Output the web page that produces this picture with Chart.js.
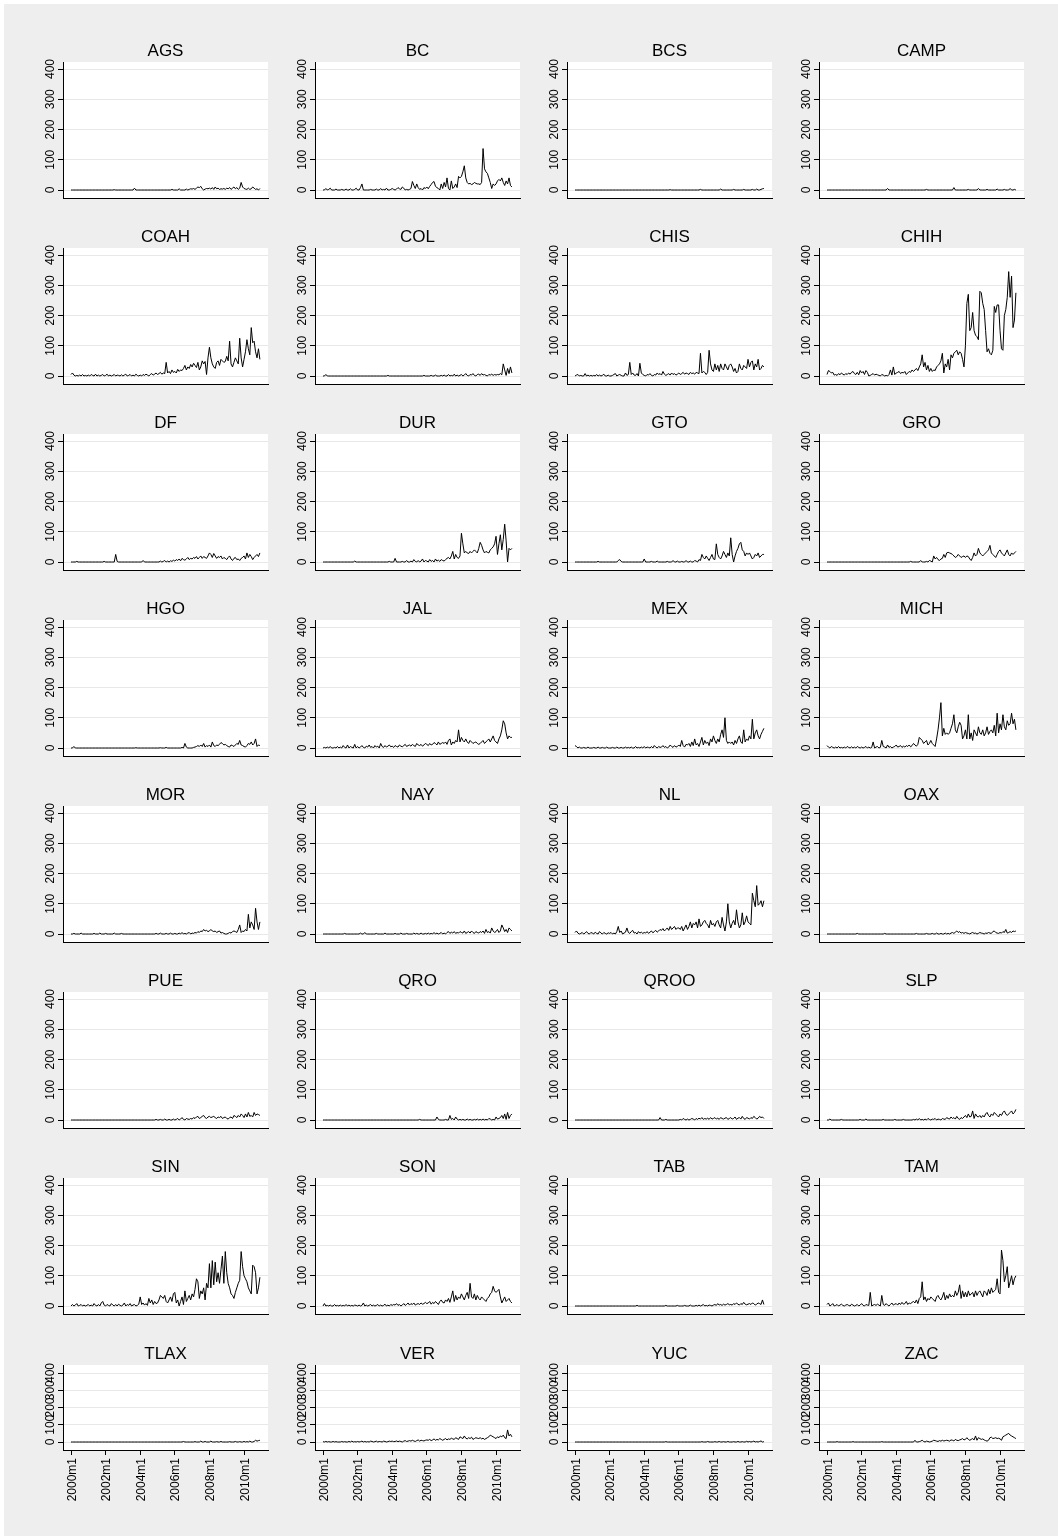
<!DOCTYPE html>
<html>
<head>
<meta charset="utf-8">
<title>Monthly series by state</title>
<script src="https://cdn.jsdelivr.net/npm/chart.js@4.4.0/dist/chart.umd.min.js"></script>
<style>
  body { margin: 0; background: #fff; }
  #page { position: absolute; left: 4px; top: 4px; width: 1054px; height: 1532px; background: #eeeeee; }
  canvas { position: absolute; }
</style>
</head>
<body>
<div id="page"></div>
<script>
// panel order (4 columns, 8 rows)
const states = ['AGS','BC','BCS','CAMP','COAH','COL','CHIS','CHIH','DF','DUR','GTO','GRO',
  'HGO','JAL','MEX','MICH','MOR','NAY','NL','OAX','PUE','QRO','QROO','SLP',
  'SIN','SON','TAB','TAM','TLAX','VER','YUC','ZAC'];

// x tick positions (month index from 2000m1) and their labels
const tickMonths = [0, 24, 48, 72, 96, 120];
const tickLabels = ['2000m1','2002m1','2004m1','2006m1','2008m1','2010m1'];
const yTicks = [0, 100, 200, 300, 400];

// monthly values 2000m1 .. 2010m12, one line per year
const AGS = [0,0,0,0,0,0,0,0,0,0,0,0,
  0,0,0,0,0,0,0,0,0,0,0,0,
  0,0,0,0,0,0,1,0,0,0,0,0,
  0,0,0,0,0,0,0,0,6,0,0,0,
  0,0,0,0,0,0,0,0,0,0,0,0,
  0,0,0,0,0,0,0,0,0,0,2,0,
  0,0,0,4,0,0,0,0,3,0,2,4,
  3,5,2,6,10,8,12,4,0,3,5,4,
  6,3,8,2,10,4,6,2,4,3,5,2,
  6,4,8,2,6,10,4,8,2,6,25,10,
  5,3,2,6,2,4,10,6,2,4,0,5];
const BC = [0,0,5,0,2,6,0,0,0,3,0,0,
  0,2,0,0,3,0,0,4,0,0,2,6,
  0,0,8,20,0,0,0,0,0,2,0,0,
  0,3,0,0,5,0,2,0,6,0,0,2,
  5,2,0,3,8,4,2,10,6,0,2,0,
  2,5,28,15,5,20,8,2,5,0,8,5,
  10,4,12,18,25,28,12,8,5,0,20,5,
  25,10,40,5,0,30,5,10,20,8,45,40,
  45,60,80,40,25,20,22,18,20,25,22,20,
  20,18,25,137,70,60,55,40,25,5,20,15,
  20,30,35,30,40,25,15,30,20,40,15,10];
const BCS = [0,0,0,0,0,0,0,0,0,0,0,0,
  0,0,0,0,0,0,0,0,0,0,0,0,
  0,0,0,0,0,0,0,0,0,0,0,0,
  0,0,0,0,0,0,0,0,0,0,0,0,
  0,0,0,0,0,0,0,0,0,0,0,0,
  0,0,0,0,0,0,1,0,0,0,0,0,
  0,0,0,0,0,0,0,0,0,0,0,0,
  0,0,0,2,0,0,0,0,0,0,0,0,
  0,0,0,0,0,3,0,0,0,0,0,0,
  0,0,2,0,0,0,0,0,0,2,0,0,
  0,0,0,2,0,0,3,0,0,2,4,5];
const CAMP = [0,0,0,0,0,0,0,0,0,0,0,0,
  0,0,0,0,0,0,0,0,0,0,0,0,
  0,0,0,0,0,0,0,0,0,0,0,0,
  0,0,0,0,0,0,5,0,0,0,0,0,
  0,0,0,0,0,0,0,0,0,0,0,0,
  0,0,0,0,0,0,0,0,0,2,0,0,
  0,0,0,0,0,0,0,0,0,0,0,0,
  0,0,0,0,8,0,0,0,0,0,0,0,
  0,0,2,0,0,0,0,0,0,5,0,0,
  0,0,0,2,0,0,0,0,0,0,3,0,
  0,0,0,2,0,0,0,5,0,0,2,0];
const COAH = [5,10,3,0,2,0,3,0,5,0,2,0,
  3,0,5,2,0,6,0,3,0,2,5,0,
  2,6,0,3,0,2,5,0,3,2,0,4,
  0,3,6,0,2,5,0,3,0,6,2,0,
  3,0,5,2,6,3,0,5,8,3,6,10,
  5,8,12,6,10,8,45,10,15,8,20,12,
  15,10,22,15,20,18,25,35,20,30,25,38,
  30,42,35,28,45,20,30,50,40,48,5,60,
  95,60,40,30,25,45,50,35,55,50,45,48,
  65,50,115,40,30,45,60,50,40,125,60,30,
  55,80,120,90,70,160,110,115,80,60,90,55];
const COL = [0,0,5,0,0,0,0,0,0,0,0,0,
  0,0,0,0,0,0,0,0,0,0,0,0,
  0,0,0,0,0,0,0,0,0,0,0,0,
  0,0,0,0,0,0,0,0,0,2,0,0,
  0,0,0,0,0,0,0,0,0,0,0,0,
  0,0,0,0,0,0,0,0,0,0,2,0,
  0,0,0,2,0,0,3,0,0,0,2,0,
  3,0,0,5,0,2,0,6,0,3,0,2,
  5,0,3,8,2,0,5,3,8,2,0,5,
  6,2,8,3,5,2,0,5,3,6,2,5,
  3,5,4,8,4,40,20,2,25,8,30,10];
const CHIS = [0,3,5,0,2,0,0,8,0,3,0,2,
  0,2,0,5,0,3,0,2,6,0,0,3,
  0,0,2,5,8,0,3,5,2,0,0,10,
  2,5,45,5,10,3,2,8,0,42,10,5,
  2,0,5,3,8,2,0,5,3,10,5,8,
  3,15,6,2,5,8,3,10,5,8,3,6,
  10,5,8,12,6,10,8,5,12,8,10,6,
  12,10,8,75,10,15,12,5,12,85,40,20,
  15,40,20,35,15,40,25,20,40,30,20,35,
  40,30,15,25,10,15,40,25,20,35,30,25,
  55,30,45,50,20,40,30,55,20,25,35,30];
const CHIH = [5,18,15,10,12,3,5,2,8,4,10,6,
  3,8,5,10,6,12,15,8,5,12,4,18,
  10,15,5,18,12,0,2,5,8,3,6,4,
  2,0,5,3,0,2,0,5,20,3,30,5,
  10,12,15,8,12,10,15,5,10,15,12,20,
  15,20,25,18,30,40,70,30,45,20,35,15,
  25,15,20,18,30,35,40,50,75,10,40,30,
  55,20,70,60,75,80,85,70,80,75,55,30,
  100,240,270,150,160,210,150,135,130,120,280,275,
  240,220,150,80,90,75,70,85,230,210,235,235,
  150,90,85,200,220,260,345,260,330,160,185,275];
const DF = [0,0,0,0,2,0,0,0,0,0,0,0,
  0,0,0,0,0,0,0,0,0,0,0,2,
  0,0,0,0,0,0,0,25,2,0,0,0,
  0,0,0,0,0,0,0,0,0,0,0,0,
  0,0,5,0,0,0,0,0,0,0,0,0,
  0,0,3,0,2,5,0,3,0,4,2,6,
  3,8,5,10,4,12,8,6,10,15,8,12,
  10,15,12,18,10,15,20,12,18,15,12,20,
  30,25,15,28,20,12,18,15,20,10,15,12,
  8,15,20,10,5,12,15,8,10,5,12,15,
  20,10,30,15,25,18,8,15,20,25,18,30];
const DUR = [0,0,0,0,0,0,0,0,0,0,0,0,
  0,0,0,0,0,0,0,0,0,0,3,0,
  0,0,0,0,0,0,0,0,0,0,0,0,
  0,0,0,0,0,0,0,0,0,0,2,0,
  0,0,12,0,0,0,0,2,0,0,5,0,
  0,3,0,8,2,0,5,0,3,10,0,5,
  3,0,8,2,5,0,10,3,6,2,8,5,
  3,8,12,15,10,20,35,10,25,15,12,20,
  95,60,30,35,30,28,35,30,35,40,35,30,
  45,65,55,40,30,35,32,30,40,45,50,60,
  85,25,60,90,40,75,125,70,0,45,40,45];
const GTO = [0,0,0,0,0,0,0,0,0,0,0,0,
  0,0,0,0,2,0,0,0,0,0,0,0,
  0,0,0,0,0,0,5,8,2,0,0,0,
  0,0,0,0,0,0,0,0,0,0,0,0,
  10,0,0,0,0,2,0,0,0,3,0,0,
  0,0,0,0,2,0,0,0,5,0,0,3,
  0,0,2,0,0,5,0,0,3,0,0,5,
  3,0,8,5,25,15,10,20,12,5,15,25,
  10,8,60,25,15,10,20,35,25,15,30,20,
  80,25,0,20,35,45,60,65,40,35,20,30,
  25,30,20,10,15,25,20,30,15,20,25,25];
const GRO = [0,0,0,0,0,0,0,0,0,0,0,0,
  0,0,0,0,0,0,0,0,0,0,0,0,
  0,0,0,0,0,0,0,0,0,0,0,0,
  0,0,0,0,0,0,0,0,0,0,0,0,
  0,0,0,0,0,0,0,0,0,0,2,0,
  0,0,0,0,0,5,0,0,0,2,0,5,
  3,0,20,10,15,8,5,10,12,25,15,30,
  32,30,28,25,20,15,18,25,20,15,18,20,
  15,20,18,10,5,15,30,20,25,45,30,25,
  20,25,30,35,40,55,30,25,20,15,25,35,
  40,30,25,20,30,40,25,20,30,25,30,35];
const HGO = [0,0,5,0,0,0,0,0,0,0,0,0,
  0,0,0,0,0,0,0,0,0,0,0,0,
  0,0,0,0,0,0,0,0,0,0,0,0,
  0,0,0,0,0,0,0,0,0,1,0,0,
  0,0,0,0,0,0,0,0,0,0,0,0,
  0,0,1,0,0,0,2,0,0,0,0,0,
  0,0,0,0,0,2,0,15,3,0,0,0,
  0,2,3,5,8,5,10,5,15,3,8,5,
  10,3,20,8,5,10,8,12,18,15,10,12,
  8,5,3,10,8,5,10,15,12,25,10,8,
  5,3,8,15,12,20,10,15,30,5,10,8];
const JAL = [0,2,0,3,0,5,0,0,2,0,5,0,
  3,0,8,2,0,10,0,5,2,0,12,0,
  5,0,3,8,2,0,6,3,10,2,5,0,
  8,3,6,0,15,5,2,8,3,6,10,4,
  6,2,8,5,3,10,6,4,8,12,5,8,
  10,6,12,8,5,15,10,8,12,6,10,15,
  12,8,15,10,12,18,15,10,20,12,15,18,
  15,20,12,25,30,10,20,15,25,20,60,20,
  35,25,20,30,20,15,25,20,15,18,20,15,
  12,15,20,25,15,20,25,30,20,30,40,25,
  20,15,30,40,60,90,80,50,30,40,35,35];
const MEX = [8,5,0,3,0,0,2,0,0,3,0,0,
  0,2,0,0,3,0,0,2,0,0,3,0,
  0,0,2,0,0,3,0,0,2,0,0,3,
  0,2,0,3,0,0,5,0,2,0,3,0,
  5,0,3,2,0,5,0,8,3,0,5,2,
  3,8,2,5,0,3,10,5,2,8,3,5,
  10,5,25,8,3,12,10,15,5,20,8,30,
  10,15,5,20,35,10,25,15,20,8,30,20,
  40,25,15,30,20,45,60,35,100,25,15,20,
  15,20,10,25,15,30,40,20,15,60,20,30,
  25,40,30,95,30,50,60,40,30,45,55,65];
const MICH = [8,3,0,5,2,0,3,0,5,0,2,0,
  3,0,5,2,0,4,0,3,0,5,2,0,
  3,0,2,5,0,3,0,2,20,0,3,5,
  0,2,25,5,3,0,10,2,5,0,3,5,
  10,3,5,8,2,6,3,8,5,10,4,8,
  15,10,6,12,35,30,25,15,20,25,10,15,
  25,15,10,5,30,60,100,150,40,65,45,50,
  45,50,65,80,110,60,50,70,85,75,30,40,
  60,30,110,30,50,25,60,50,40,70,50,45,
  60,40,50,70,45,55,60,50,75,40,115,50,
  80,60,110,70,60,90,75,80,115,80,95,60];
const MOR = [0,0,2,0,0,0,0,3,0,0,0,0,
  0,0,0,0,2,0,0,0,3,0,0,0,
  2,0,0,0,0,0,3,0,0,0,0,2,
  0,0,0,0,0,0,0,0,0,0,0,0,
  0,0,0,0,0,0,0,0,0,0,0,2,
  0,0,3,0,0,0,2,0,0,3,0,0,
  2,0,0,3,0,5,0,2,0,3,5,0,
  3,2,5,3,8,5,10,8,15,10,12,8,
  10,15,10,8,10,5,8,10,3,5,2,0,
  0,2,5,3,8,10,8,5,15,30,5,10,
  8,15,10,65,20,40,30,15,85,40,15,40];
const NAY = [0,0,0,0,0,0,0,0,0,0,0,0,
  0,0,0,2,0,0,0,0,0,0,0,0,
  0,0,3,0,0,5,0,0,0,0,0,0,
  0,2,0,0,0,0,0,3,0,0,0,0,
  0,0,2,0,0,0,3,0,0,0,2,0,
  0,0,0,3,0,2,0,0,3,0,0,2,
  0,3,0,2,0,5,0,3,0,2,5,0,
  3,0,5,8,2,6,3,8,2,5,3,8,
  5,3,10,2,5,8,3,10,5,2,8,5,
  3,8,5,10,2,15,5,8,3,20,10,5,
  8,15,5,10,30,20,8,15,5,20,15,10];
const NL = [5,10,3,0,2,5,0,3,8,2,0,5,
  3,0,6,2,0,8,3,0,5,2,0,4,
  2,5,0,3,0,8,25,5,10,0,3,6,
  20,5,2,8,12,3,5,0,8,3,6,2,
  5,3,8,2,6,10,4,8,12,6,10,15,
  12,18,10,15,20,12,25,15,20,25,15,20,
  20,15,25,10,20,30,15,25,40,20,35,30,
  40,20,50,25,30,40,45,35,30,20,45,30,
  35,25,40,45,30,20,55,30,10,40,100,40,
  20,35,45,30,80,40,20,30,70,30,40,60,
  40,35,30,135,110,90,160,95,100,110,90,110];
const OAX = [0,0,0,0,0,0,0,0,0,0,0,0,
  0,0,0,0,0,0,0,0,0,2,0,0,
  0,0,0,0,0,0,0,0,0,0,0,0,
  0,0,0,0,2,0,0,0,0,0,0,0,
  0,0,0,0,0,0,0,0,0,0,0,0,
  0,0,2,0,0,0,0,0,0,2,0,0,
  0,2,0,0,3,0,0,2,0,0,3,0,
  2,0,3,5,2,6,10,5,8,3,5,2,
  5,3,2,0,3,5,2,3,0,2,5,3,
  2,0,3,2,5,3,2,8,10,5,3,2,
  5,3,8,5,15,3,5,8,5,10,8,10];
const PUE = [0,0,0,0,0,0,0,0,0,0,0,0,
  0,0,0,0,0,0,0,0,0,0,0,0,
  0,0,0,0,0,0,0,0,0,0,0,0,
  0,0,0,0,0,0,0,0,0,0,0,0,
  0,0,0,0,0,0,0,0,0,0,0,2,
  0,0,2,0,0,3,0,0,2,0,0,3,
  0,2,5,0,3,8,2,0,5,3,2,5,
  3,8,5,10,12,5,8,12,15,8,5,10,
  12,8,10,12,8,5,10,8,12,5,8,10,
  5,3,8,10,5,15,12,8,15,10,20,15,
  8,20,10,25,12,15,10,25,15,20,18,15];
const QRO = [0,0,0,0,0,0,0,0,0,0,0,0,
  0,0,0,0,0,0,0,0,0,0,0,0,
  0,0,0,0,0,0,0,0,0,0,0,0,
  0,0,0,0,0,0,0,0,0,0,0,0,
  0,0,0,0,0,0,0,0,0,0,0,0,
  0,0,0,0,0,0,0,2,0,0,0,0,
  0,0,0,0,0,0,0,10,2,0,0,0,
  0,2,0,0,15,2,5,0,10,3,0,2,
  0,2,0,0,3,0,2,0,0,2,0,3,
  0,2,0,3,0,2,0,5,3,0,2,0,
  10,3,5,8,15,5,20,2,25,5,15,20];
const QROO = [0,0,0,0,0,0,0,0,0,0,0,0,
  0,0,0,0,0,0,0,0,0,0,0,0,
  0,0,0,0,0,0,0,0,0,0,0,0,
  0,0,0,0,0,0,0,0,0,0,0,0,
  0,0,0,0,0,0,0,0,0,0,0,8,
  0,0,0,2,0,0,0,0,0,0,0,0,
  0,2,0,5,2,0,3,0,2,5,3,0,
  5,2,6,3,8,2,5,3,6,2,8,3,
  5,8,3,6,2,8,5,3,6,8,2,5,
  8,3,5,10,2,6,8,3,12,5,2,8,
  6,3,8,5,12,8,3,6,12,8,10,5];
const SLP = [0,0,3,0,0,0,0,0,0,0,2,0,
  0,0,0,0,0,0,0,0,0,0,0,2,
  0,0,0,3,0,0,0,0,0,0,0,0,
  0,0,0,2,0,0,0,0,0,0,0,2,
  0,0,0,0,0,2,0,0,0,0,0,0,
  2,0,3,0,5,0,2,0,3,0,5,2,
  0,3,2,5,0,3,2,0,5,3,2,8,
  5,3,10,5,8,3,12,5,2,8,5,10,
  15,8,20,10,12,30,5,20,12,10,15,8,
  15,10,20,25,15,10,20,15,25,20,15,10,
  20,15,25,30,20,15,20,25,30,20,25,35];
const SIN = [0,5,0,3,8,0,2,5,0,3,0,2,
  5,0,3,0,8,2,0,5,0,10,15,3,
  0,5,2,0,8,3,0,5,0,6,2,0,
  3,10,0,5,2,8,0,3,5,0,2,6,
  30,5,10,3,8,2,25,10,20,5,15,8,
  10,20,35,30,25,35,15,10,20,30,15,40,
  45,10,20,0,15,30,5,50,15,25,35,20,
  40,30,55,90,80,25,50,40,60,20,75,60,
  140,60,150,70,145,80,110,75,120,165,75,180,
  110,75,60,40,35,25,45,60,75,85,180,130,
  100,90,80,60,50,40,135,130,110,40,60,95];
const SON = [0,8,0,2,0,3,0,0,5,0,2,0,
  3,0,2,0,5,0,3,0,2,0,3,2,
  0,3,0,2,10,0,3,0,2,5,0,3,
  0,2,5,0,3,0,2,6,0,3,0,5,
  2,5,3,8,2,5,0,3,8,2,5,10,
  3,8,5,10,3,6,8,5,10,6,8,12,
  8,10,15,6,12,8,15,10,5,15,20,12,
  10,20,15,25,12,30,50,15,35,20,30,25,
  40,30,20,35,45,25,75,30,25,40,20,35,
  25,20,30,25,20,15,25,30,40,45,65,50,
  45,50,55,30,10,20,30,15,20,25,15,10];
const TAB = [0,0,0,0,0,0,0,0,0,0,0,0,
  0,0,0,0,0,0,0,0,0,0,0,0,
  0,0,0,0,0,0,0,0,0,0,0,0,
  0,0,0,0,0,0,0,2,0,0,0,0,
  0,0,0,0,0,0,0,0,0,0,0,0,
  0,0,0,2,0,0,0,0,0,0,0,2,
  0,0,0,0,2,0,0,0,3,0,0,0,
  2,0,3,0,2,5,0,2,0,3,2,0,
  3,5,2,8,3,5,2,6,3,5,8,4,
  5,3,8,5,10,6,3,8,5,12,6,4,
  6,8,5,10,8,3,6,10,8,5,20,5];
const TAM = [5,10,0,3,8,0,2,5,0,3,6,2,
  0,3,5,2,0,6,3,0,2,5,0,3,
  8,2,0,5,3,2,45,0,3,5,2,6,
  3,0,35,5,2,8,3,0,5,10,3,6,
  8,3,10,5,12,6,8,15,5,10,8,12,
  15,10,20,8,25,30,80,20,30,15,25,20,
  30,25,20,15,30,35,25,20,30,45,20,35,
  25,40,30,35,30,50,35,45,70,25,50,30,
  45,30,50,35,40,45,30,50,35,45,50,40,
  30,50,45,35,55,40,60,45,50,55,90,45,
  40,185,150,80,100,130,60,80,100,70,90,100];
const TLAX = [0,0,0,0,0,0,0,0,0,0,0,0,
  0,0,0,0,0,0,0,0,0,0,0,0,
  0,0,0,0,0,0,0,0,0,0,0,0,
  0,0,0,0,0,0,0,0,0,0,0,0,
  0,0,0,0,0,0,0,0,0,0,0,0,
  0,0,0,0,0,0,0,0,0,0,0,0,
  0,0,0,0,0,0,3,0,0,0,0,0,
  0,0,2,0,0,0,5,0,0,3,0,0,
  0,5,0,0,0,2,0,0,3,0,0,0,
  0,0,2,0,0,0,3,0,0,2,0,0,
  3,0,2,0,5,0,0,3,10,5,8,10];
const VER = [2,0,3,0,2,0,0,3,0,2,0,0,
  0,3,0,2,0,0,3,0,5,0,2,0,
  3,0,2,5,0,3,0,2,0,5,3,0,
  2,5,0,3,2,0,5,3,0,2,5,3,
  5,2,3,6,2,5,3,0,5,8,3,5,
  8,5,10,6,3,8,12,5,10,8,6,10,
  12,10,15,8,12,18,10,15,12,20,15,10,
  15,20,12,18,15,22,18,15,25,20,15,30,
  25,20,35,22,18,25,20,28,15,20,25,22,
  20,25,18,22,15,20,25,30,40,35,30,25,
  20,30,25,35,30,40,25,20,70,35,45,30];
const YUC = [0,0,0,0,0,0,0,0,0,0,0,0,
  0,0,0,0,0,0,0,0,0,0,0,0,
  0,0,0,0,0,0,0,0,0,0,0,0,
  0,0,0,0,0,0,0,0,0,0,0,0,
  0,0,0,0,0,0,0,0,0,0,0,0,
  0,0,0,2,0,0,0,0,0,0,0,0,
  0,0,0,0,0,0,0,0,0,0,0,0,
  0,0,0,0,2,0,0,0,3,0,0,0,
  0,2,0,0,3,0,0,2,0,0,3,0,
  0,0,2,0,0,3,0,0,2,0,0,4,
  0,3,0,2,5,0,2,0,3,6,0,2];
const ZAC = [0,0,0,0,0,0,0,2,0,0,0,0,
  0,0,0,0,0,0,2,0,0,0,0,0,
  0,0,0,0,0,0,0,0,0,0,0,0,
  0,0,2,0,0,0,0,0,0,0,0,0,
  0,0,0,0,0,0,0,0,0,0,0,0,
  0,10,0,0,2,5,10,3,0,5,3,0,
  2,5,10,8,5,3,8,5,10,6,8,10,
  8,5,12,10,6,15,10,8,12,15,20,12,
  15,25,15,10,15,20,12,35,10,25,20,15,
  18,12,8,5,10,25,28,20,22,25,20,22,
  18,10,30,35,40,45,50,40,35,30,25,20];

const series = {AGS, BC, BCS, CAMP, COAH, COL, CHIS, CHIH, DF, DUR, GTO, GRO,
  HGO, JAL, MEX, MICH, MOR, NAY, NL, OAX, PUE, QRO, QROO, SLP,
  SIN, SON, TAB, TAM, TLAX, VER, YUC, ZAC};

const FONT = '"Liberation Sans", Arial, Helvetica, sans-serif';

// white plot region, panel title, vertical y labels and (bottom row) vertical x labels
const panelPlugin = {
  id: 'panel',
  beforeDraw(chart) {
    const {ctx, chartArea: a} = chart;
    ctx.save();
    ctx.fillStyle = '#ffffff';
    ctx.fillRect(a.left, a.top, a.right - a.left, a.bottom - a.top);
    ctx.restore();
  },
  afterDraw(chart, args, opts) {
    const {ctx, chartArea: a} = chart;
    const {x, y} = chart.scales;
    ctx.save();
    ctx.fillStyle = '#000';
    ctx.font = '17px ' + FONT;
    ctx.textAlign = 'center';
    ctx.textBaseline = 'alphabetic';
    ctx.fillText(opts.title, (a.left + a.right) / 2, a.top - 6);
    ctx.font = '12px ' + FONT;
    yTicks.forEach(v => {
      ctx.save();
      ctx.translate(a.left - 9.5, y.getPixelForValue(v));
      ctx.rotate(-Math.PI / 2);
      ctx.fillText(String(v), 0, 0);
      ctx.restore();
    });
    if (opts.xLabels) {
      ctx.textAlign = 'right';
      tickMonths.forEach((m, k) => {
        ctx.save();
        ctx.translate(x.getPixelForValue(m) + 4.5, a.bottom + 8);
        ctx.rotate(-Math.PI / 2);
        ctx.fillText(tickLabels[k], 0, 0);
        ctx.restore();
      });
    }
    ctx.restore();
  }
};

const colX0 = 63, colStep = 252, plotW = 205;
const rowY0 = 62, rowStep = 186;
const monthPx = 1.442;

states.forEach((name, i) => {
  const r = Math.floor(i / 4), c = i % 4;
  const last = r === 7;
  const plotL = colX0 + colStep * c;
  const plotT = last ? 1365 : rowY0 + rowStep * r;
  const plotH = last ? 85 : 136;
  const topOff = last ? 8 : 7, botOff = 8;
  const upp = 400 / (plotH - topOff - botOff);
  const pad = {left: 50, top: 40, right: 7, bottom: last ? 65 : 10};

  const cv = document.createElement('canvas');
  cv.width = pad.left + plotW + pad.right;
  cv.height = pad.top + plotH + pad.bottom;
  cv.style.left = (plotL - pad.left) + 'px';
  cv.style.top = (plotT - pad.top) + 'px';
  cv.style.width = cv.width + 'px';
  cv.style.height = cv.height + 'px';
  document.body.appendChild(cv);

  const xMin = -8 / monthPx;
  new Chart(cv, {
    type: 'line',
    data: {
      datasets: [{
        data: series[name].map((v, m) => ({x: m, y: v})),
        borderColor: '#000',
        borderWidth: 1,
        pointRadius: 0,
        tension: 0,
        fill: false
      }]
    },
    options: {
      responsive: false,
      animation: false,
      devicePixelRatio: 1,
      layout: {padding: pad},
      plugins: {
        legend: {display: false},
        tooltip: {enabled: false},
        title: {display: false},
        panel: {title: name, xLabels: last}
      },
      scales: {
        x: {
          type: 'linear',
          min: xMin,
          max: xMin + plotW / monthPx,
          afterBuildTicks: s => { s.ticks = tickMonths.map(v => ({value: v})); },
          afterFit: s => { s.height = 0; },
          grid: {display: true, drawOnChartArea: false, drawTicks: last, tickLength: 5, tickColor: '#000'},
          border: {display: true, color: '#000', width: 1},
          ticks: {display: false}
        },
        y: {
          min: -botOff * upp,
          max: 400 + topOff * upp,
          afterBuildTicks: s => { s.ticks = yTicks.map(v => ({value: v})); },
          afterFit: s => { s.width = 0; },
          grid: {color: '#e8e8e8', lineWidth: 1, drawTicks: true, tickLength: 5, tickColor: '#000'},
          border: {display: true, color: '#000', width: 1},
          ticks: {display: false}
        }
      }
    },
    plugins: [panelPlugin]
  });
});
</script>
</body>
</html>
